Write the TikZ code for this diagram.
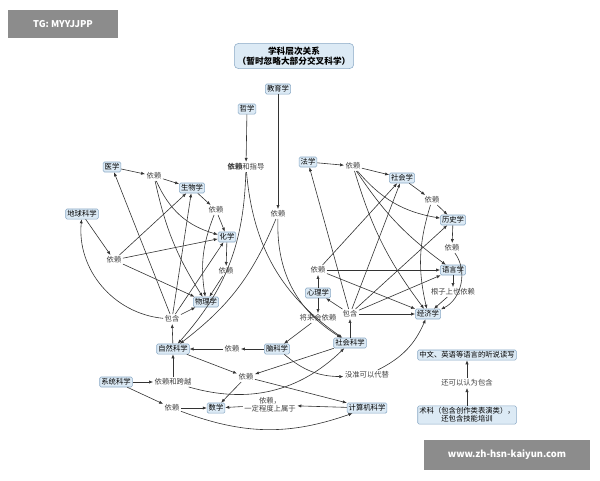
\documentclass[tikz,border=0pt]{standalone}
\usepackage{fontspec}
\setmainfont{Noto Sans CJK SC}
\usetikzlibrary{arrows.meta}
\definecolor{boxfill}{HTML}{DCEAF5}
\definecolor{boxline}{HTML}{8AA9C5}
\tikzset{
  subj/.style={draw=boxline,fill=boxfill,rounded corners=1pt,inner sep=1.2pt,font=\fontsize{5.5}{6}\selectfont},
  rel/.style={inner sep=1pt,font=\fontsize{5.5}{6}\selectfont,text=black!75},
  arr/.style={-{Latex[length=3pt,width=2.4pt]},line width=0.45pt,black!80},
}
\begin{document}
\begin{tikzpicture}[x=0.75pt,y=-0.75pt]
    \useasboundingbox (0,0) rectangle (600,480);
    % watermarks
    \node[fill=black!45,text=white,minimum width=82pt,minimum height=21pt,font=\fontsize{7}{8}\selectfont\bfseries] (tg) at (63,24) {TG: MYYJJPP};
    \node[fill=black!45,text=white,minimum width=124pt,minimum height=22pt,font=\fontsize{7}{8}\selectfont\bfseries] (www) at (507,455) {www.zh-hsn-kaiyun.com};
    % title
    \node[subj,align=center,rounded corners=3pt,inner sep=2.5pt,font=\fontsize{6.5}{7.5}\selectfont\bfseries] (title) at (294,56) {学科层次关系\\（暂时忽略大部分交叉科学）};
    % subjects
    \node[subj] (edu) at (278,89) {教育学};
    \node[subj] (phil) at (247,109) {哲学};
    \node[subj] (med) at (112,167) {医学};
    \node[subj] (bio) at (192,188) {生物学};
    \node[subj] (chem) at (227,237) {化学};
    \node[subj] (phys) at (206,302) {物理学};
    \node[subj] (earth) at (82,214) {地球科学};
    \node[subj] (nat) at (173,349) {自然科学};
    \node[subj] (brain) at (277,349) {脑科学};
    \node[subj] (soc) at (350,343) {社会科学};
    \node[subj] (psy) at (318,293) {心理学};
    \node[subj] (econ) at (428,314) {经济学};
    \node[subj] (law) at (308,162) {法学};
    \node[subj] (socio) at (402,178) {社会学};
    \node[subj] (hist) at (453,220) {历史学};
    \node[subj] (ling) at (453,270) {语言学};
    \node[subj] (sys) at (116,382) {系统科学};
    \node[subj] (math) at (216,408) {数学};
    \node[subj] (comp) at (367,408) {计算机科学};
    \node[subj] (lang) at (467,355) {中文、英语等语言的听说读写};
    \node[subj,align=center] (art) at (467,415) {术科（包含创作类表演类），\\还包含技能培训};
    % relations
    \node[rel] (guide) at (246,167) {\textbf{依赖}和指导};
    \node[rel] (edudep) at (278,214) {依赖};
    \node[rel] (d1) at (154,176) {依赖};
    \node[rel] (d2) at (216,210) {依赖};
    \node[rel] (d3) at (226,271) {依赖};
    \node[rel] (d4) at (114,260) {依赖};
    \node[rel] (inc1) at (172,319) {包含};
    \node[rel] (n1) at (232,349) {依赖};
    \node[rel] (future) at (318,318) {将来会依赖};
    \node[rel] (e1) at (318,270) {依赖};
    \node[rel] (inc2) at (350,314) {包含};
    \node[rel] (e3) at (353,166) {依赖};
    \node[rel] (e4) at (432,200) {依赖};
    \node[rel] (e5) at (452,248) {依赖};
    \node[rel] (root) at (453,292) {根子上也依赖};
    \node[rel] (span) at (173,382) {依赖和跨越};
    \node[rel] (n2) at (246,377) {依赖};
    \node[rel] (maybe) at (367,375) {没准可以代替};
    \node[rel] (n3) at (172,408) {依赖};
    \node[rel,align=center] (part) at (270,405) {依赖，\\一定程度上属于};
    \node[rel] (also) at (467,383) {还可以认为包含};
    % natural science cluster
    \draw[arr] (med) -- (d1);
    \draw[arr] (d1) -- (bio);
    \draw[arr] (bio) -- (d2);
    \draw[arr] (d2) -- (chem);
    \draw[arr] (chem) -- (d3);
    \draw[arr] (d3) -- (phys);
    \draw[arr] (d1) to[bend right=25] (chem);
    \draw[arr] (d1) to[bend right=10] (phys);
    \draw[arr] (d2) to[bend right=15] (phys);
    \draw[arr] (earth) -- (d4);
    \draw[arr] (d4) -- (bio);
    \draw[arr] (d4) -- (chem);
    \draw[arr] (d4) -- (phys);
    \draw[arr] (inc1) to[bend left=45] (earth);
    \draw[arr] (inc1) -- (med);
    \draw[arr] (inc1) -- (bio);
    \draw[arr] (inc1) -- (chem);
    \draw[arr] (inc1) -- (phys);
    \draw[arr] (nat) -- (inc1);
    % philosophy and education
    \draw[arr] (phil) -- (guide);
    \draw[arr] (edu) -- (edudep);
    \draw[arr] (guide) to[bend left=20] (nat);
    \draw[arr] (guide) to[bend right=25] (soc);
    \draw[arr] (edudep) to[bend left=15] (nat);
    \draw[arr] (edudep) to[bend right=30] (soc);
    % social science cluster
    \draw[arr] (soc) -- (inc2);
    \draw[arr] (inc2) -- (psy);
    \draw[arr] (inc2) -- (law);
    \draw[arr] (inc2) -- (socio);
    \draw[arr] (inc2) -- (hist);
    \draw[arr] (inc2) -- (ling);
    \draw[arr] (inc2) -- (econ);
    \draw[arr] (psy) -- (e1);
    \draw[arr] (psy) -- (future);
    \draw[arr] (future) -- (brain);
    \draw[arr] (e1) -- (socio);
    \draw[arr] (e1) -- (ling);
    \draw[arr] (e1) -- (econ);
    \draw[arr] (law) -- (e3);
    \draw[arr] (e3) -- (socio);
    \draw[arr] (socio) -- (e4);
    \draw[arr] (e4) -- (hist);
    \draw[arr] (hist) -- (e5);
    \draw[arr] (e3) to[bend right=20] (hist);
    \draw[arr] (e3) to[bend right=10] (ling);
    \draw[arr] (e3) to[bend right=10] (econ);
    \draw[arr] (e4) to[bend right=15] (econ);
    \draw[arr] (e5) to[bend left=50] (econ);
    \draw[arr] (ling) -- (root);
    \draw[arr] (root) -- (econ);
    % lower part
    \draw[arr] (brain) -- (n1);
    \draw[arr] (n1) -- (nat);
    \draw[arr] (nat) -- (n2);
    \draw[arr] (soc) -- (n2);
    \draw[arr] (n2) -- (math);
    \draw[arr] (n2) -- (comp);
    \draw[arr] (brain) to[bend right=20] (maybe);
    \draw[arr] (maybe) to[bend right=20] (econ);
    \draw[arr] (sys) -- (span);
    \draw[arr] (span) -- (nat);
    \draw[arr] (span) to[bend right=30] (soc);
    \draw[arr] (sys) -- (n3);
    \draw[arr] (n3) -- (math);
    \draw[arr] (n3) to[bend right=20] (comp);
    \draw[arr] (comp) -- (part);
    \draw[arr] (part) -- (math);
    \draw[arr] (art) -- (also);
    \draw[arr] (also) -- (lang);
\end{tikzpicture}
\end{document}
